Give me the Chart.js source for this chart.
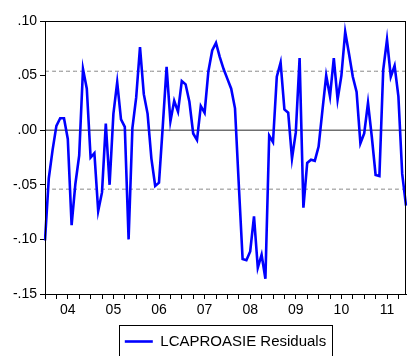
<!DOCTYPE html>
<html>
<head>
<meta charset="utf-8">
<script src="https://cdn.jsdelivr.net/npm/chart.js@4.4.1/dist/chart.umd.min.js"></script>
<style>
html,body{margin:0;padding:0;background:#fff;}
#wrap{width:409px;height:356px;overflow:hidden;}
</style>
</head>
<body>
<div id="wrap"><canvas id="c" width="409" height="356"></canvas></div>
<script>
// ---- data ----
const years = ['04','05','06','07','08','09','10','11'];
const monthNums = ['01','02','03','04','05','06','07','08','09','10','11','12'];
const categories = [];
years.forEach(y => monthNums.forEach(m => categories.push('20' + y + 'M' + m)));

const residuals = [
  -0.101, -0.044, -0.018,  0.004,  0.011,  0.011, -0.008, -0.087, -0.049, -0.023,  0.056,  0.038,
  -0.025, -0.021, -0.074, -0.057,  0.006, -0.050,  0.015,  0.044,  0.010,  0.003, -0.100,  0.002,
   0.030,  0.076,  0.033,  0.015, -0.026, -0.051, -0.048,  0.004,  0.058,  0.008,  0.027,  0.017,
   0.045,  0.042,  0.026, -0.003, -0.009,  0.022,  0.016,  0.054,  0.073,  0.080,  0.067,  0.056,
   0.047,  0.038,  0.020, -0.050, -0.118, -0.119, -0.111, -0.079, -0.126, -0.114, -0.136, -0.005,
  -0.011,  0.049,  0.062,  0.019,  0.016, -0.026, -0.002,  0.066, -0.071, -0.030, -0.027, -0.028,
  -0.015,  0.018,  0.050,  0.031,  0.066,  0.028,  0.050,  0.090,  0.070,  0.049,  0.035, -0.012,
  -0.003,  0.025, -0.006, -0.041, -0.042,  0.055,  0.083,  0.049,  0.059,  0.031, -0.040, -0.069
];

const zeroLevel = 0;
const bandLevels = [0.054, -0.054];
const yTicks = [-0.15, -0.10, -0.05, 0.00, 0.05, 0.10];
const yMin = -0.15, yMax = 0.10;
const seriesName = 'LCAPROASIE Residuals';

// ---- helpers ----
const FONT = "'Liberation Sans', Arial, sans-serif";
function fmt(v) {
  const s = Math.abs(v).toFixed(2).replace(/^0/, '');
  return (v < -1e-9 ? '-' : '') + s;
}
const constLine = lvl => categories.map(() => lvl);

const framePlugin = {
  id: 'frame',
  afterDraw(chart) {
    const {ctx, chartArea: a} = chart;
    ctx.save();
    ctx.strokeStyle = '#000';
    ctx.lineWidth = 1;
    ctx.strokeRect(Math.round(a.left) + 0.5, Math.round(a.top) + 0.5,
                   Math.round(a.right - a.left) - 1, Math.round(a.bottom - a.top));
    // legend box
    const lg = chart.legend;
    if (lg && lg.legendHitBoxes && lg.legendHitBoxes.length) {
      const hb = lg.legendHitBoxes[0];
      ctx.strokeStyle = '#000';
      ctx.strokeRect(Math.round(hb.left - 6) + 0.5, Math.round(hb.top - 9) + 0.5,
                     Math.round(hb.width + 12), 40);
    }
    ctx.restore();
  }
};

new Chart(document.getElementById('c'), {
  type: 'line',
  data: {
    labels: categories,
    datasets: [
      {
        label: seriesName,
        data: residuals,
        borderColor: '#0000ff',
        backgroundColor: '#0000ff',
        borderWidth: 2.6,
        pointRadius: 0,
        tension: 0,
        order: 0
      },
      {
        label: 'zero',
        data: constLine(zeroLevel),
        borderColor: '#707070',
        borderWidth: 1.5,
        pointRadius: 0,
        order: 2
      },
      {
        label: 'upper',
        data: constLine(bandLevels[0]),
        borderColor: '#888888',
        borderWidth: 1,
        borderDash: [4, 3],
        pointRadius: 0,
        order: 2
      },
      {
        label: 'lower',
        data: constLine(bandLevels[1]),
        borderColor: '#888888',
        borderWidth: 1,
        borderDash: [4, 3],
        pointRadius: 0,
        order: 2
      }
    ]
  },
  options: {
    responsive: false,
    animation: false,
    devicePixelRatio: 1,
    layout: { padding: { top: 21, right: 2, bottom: 0, left: 0 } },
    plugins: {
      tooltip: { enabled: false },
      legend: {
        position: 'bottom',
        fullSize: false,
        maxHeight: 30,
        labels: {
          filter: item => item.datasetIndex === 0,
          usePointStyle: true,
          pointStyle: 'line',
          pointStyleWidth: 28,
          color: '#000',
          padding: 8,
          font: { family: FONT, size: 15 }
        }
      }
    },
    scales: {
      x: {
        type: 'category',
        offset: false,
        grid: {
          display: true,
          drawOnChartArea: false,
          drawTicks: true,
          tickLength: 5,
          tickColor: c => (c.index % 3 === 0 ? '#000' : 'rgba(0,0,0,0)')
        },
        border: { display: true, color: '#000', width: 1 },
        ticks: {
          autoSkip: false,
          maxRotation: 0,
          minRotation: 0,
          padding: 3,
          color: '#000',
          font: { family: FONT, size: 14 },
          callback: (v, i) => (i % 12 === 6 ? years[Math.floor(i / 12)] : '')
        },
        afterFit: s => { s.height = 32; }
      },
      y: {
        min: yMin,
        max: yMax,
        afterBuildTicks: s => { s.ticks = yTicks.map(v => ({ value: v })); },
        grid: { drawOnChartArea: false, drawTicks: true, tickLength: 5, tickColor: '#000' },
        border: { display: true, color: '#000', width: 1 },
        ticks: {
          color: '#000',
          padding: 3,
          font: { family: FONT, size: 14 },
          callback: v => fmt(v)
        },
        afterFit: s => { s.width = 45; }
      }
    }
  },
  plugins: [framePlugin]
});
</script>
</body>
</html>
